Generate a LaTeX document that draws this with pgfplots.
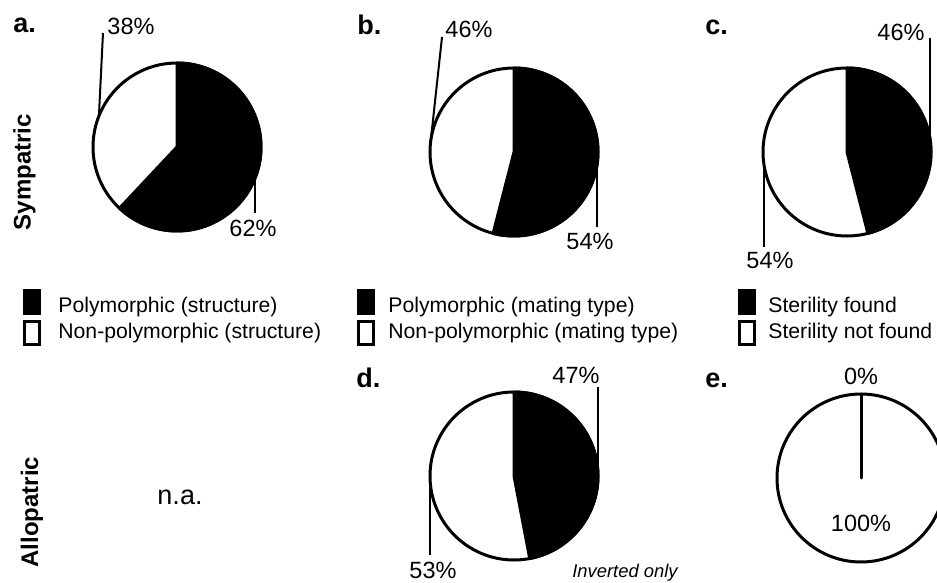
\documentclass[border=0pt]{standalone}
\usepackage{fontspec}
\setmainfont{Liberation Sans}
\usepackage{pgfplots}
\usepackage{pgfplotstable}
\pgfplotsset{compat=1.18}

% share of the black (positive) category in each panel, in percent
\pgfplotstableread{
panel share
a 62
b 54
c 46
d 47
e 0
}\pietable

\pgfplotsset{pie/.style={hide axis, scale only axis, width=84pt, height=84pt,
  xmin=-1, xmax=1, ymin=-1, ymax=1, clip=false, anchor=center}}

% black wedge, clockwise from 12 o'clock, then the outline
\newcommand\piewedge[1]{%
  \filldraw[black, line width=1.5pt, line join=round] (axis cs:0,0) -- (axis cs:0,1)
    arc[start angle=90, delta angle={-3.6*#1}, radius=42pt] -- cycle;
  \draw[line width=1.5pt] (axis cs:0,0) circle[radius=42pt];
}
% leader from the rim at the middle of the black / white wedge to (x,y)
\newcommand\leadblack[3]{\draw[line width=1pt] (axis cs:{cos(90-1.8*#1)},{sin(90-1.8*#1)}) -- (axis cs:#2,#3);}
\newcommand\leadwhite[3]{\draw[line width=1pt] (axis cs:{cos(270-1.8*#1)},{sin(270-1.8*#1)}) -- (axis cs:#2,#3);}

\newcommand\pct{\fontsize{11.75}{14}\selectfont}
\newcommand\leg{\fontsize{10.6}{13}\selectfont}
\newcommand\panel{\fontsize{13.5}{16}\selectfont\bfseries}
\newcommand\rowlab{\fontsize{12}{14}\selectfont\bfseries}

\begin{document}
\begin{tikzpicture}[x=0.5pt, y=0.5pt]
\path[use as bounding box] (0,0) rectangle (937,-583);

% pie centres
\coordinate (pa) at (177,-147);
\coordinate (pb) at (514,-152);
\coordinate (pc) at (847,-152);
\coordinate (pd) at (514,-476);
\coordinate (pe) at (861,-478);

\pgfplotstablegetelem{0}{share}\of\pietable\edef\shA{\pgfplotsretval}
\pgfplotstablegetelem{1}{share}\of\pietable\edef\shB{\pgfplotsretval}
\pgfplotstablegetelem{2}{share}\of\pietable\edef\shC{\pgfplotsretval}
\pgfplotstablegetelem{3}{share}\of\pietable\edef\shD{\pgfplotsretval}
\pgfplotstablegetelem{4}{share}\of\pietable\edef\shE{\pgfplotsretval}

% a. structure, sympatric
\begin{axis}[pie, at={(pa)}]
  \piewedge{\shA}
  \leadwhite{\shA}{-0.881}{1.357}
  \leadblack{\shA}{{cos(90-1.8*\shA)}}{-0.786}
\end{axis}

% b. mating type, sympatric
\begin{axis}[pie, at={(pb)}]
  \piewedge{\shB}
  \leadwhite{\shB}{-0.857}{1.369}
  \leadblack{\shB}{{cos(90-1.8*\shB)}}{-0.893}
\end{axis}

% c. sterility, sympatric
\begin{axis}[pie, at={(pc)}]
  \piewedge{\shC}
  \leadblack{\shC}{{cos(90-1.8*\shC)}}{1.357}
  \leadwhite{\shC}{{cos(270-1.8*\shC)}}{-1.131}
\end{axis}

% d. sterility, allopatric (inverted only)
\begin{axis}[pie, at={(pd)}]
  \piewedge{\shD}
  \leadblack{\shD}{{cos(90-1.8*\shD)}}{1.060}
  \leadwhite{\shD}{{cos(270-1.8*\shD)}}{-0.940}
\end{axis}

% e. sterility, allopatric; runs past the right edge of the page
\begin{scope}[overlay]
\begin{axis}[pie, at={(pe)}]
  \piewedge{\shE}
\end{axis}
\end{scope}

% panel letters
\node[anchor=base west, inner sep=0, font=\panel] at (13,-33) {a.};
\node[anchor=base west, inner sep=0, font=\panel] at (357,-35) {b.};
\node[anchor=base west, inner sep=0, font=\panel] at (705,-35) {c.};
\node[anchor=base west, inner sep=0, font=\panel] at (356,-387) {d.};
\node[anchor=base west, inner sep=0, font=\panel] at (705,-387) {e.};

% row labels
\node[rotate=90, inner sep=0, font=\rowlab] at (24.5,-172) {Sympatric};
\node[rotate=90, inner sep=0, font=\rowlab] at (32,-512) {Allopatric};
\node[inner sep=0, font=\fontsize{13.5}{16}\selectfont] at (180,-497) {n.a.};

% percentages
\node[inner sep=0, font=\pct] at (131,-26) {38\%};
\node[inner sep=0, font=\pct] at (253,-228) {62\%};
\node[inner sep=0, font=\pct] at (469,-29) {46\%};
\node[inner sep=0, font=\pct] at (590,-241) {54\%};
\node[inner sep=0, font=\pct] at (901,-32) {46\%};
\node[inner sep=0, font=\pct] at (770,-260) {54\%};
\node[inner sep=0, font=\pct] at (576,-375) {47\%};
\node[inner sep=0, font=\pct] at (433,-570) {53\%};
\node[inner sep=0, font=\pct] at (861,-376) {0\%};
\node[inner sep=0, font=\pct] at (861,-523) {100\%};
\node[inner sep=0, font=\fontsize{9.2}{11}\selectfont\itshape] at (625,-573) {Inverted only};

% legends
\foreach \lx/\tx/\one/\two in {
    23/58/{Polymorphic (structure)}/{Non-polymorphic (structure)},
    357/388/{Polymorphic (mating type)}/{Non-polymorphic (mating type)},
    738/768/{Sterility found}/{Sterility not found}} {
  \fill (\lx,-289) rectangle ({\lx+18},-315);
  \draw[line width=1.5pt] ({\lx+1.5},-321.5) rectangle ({\lx+16.5},-344.5);
  \node[anchor=base west, inner sep=0, font=\leg] at (\tx,-312) {\one};
  \node[anchor=base west, inner sep=0, font=\leg] at (\tx,-338) {\two};
}
\end{tikzpicture}
\end{document}
